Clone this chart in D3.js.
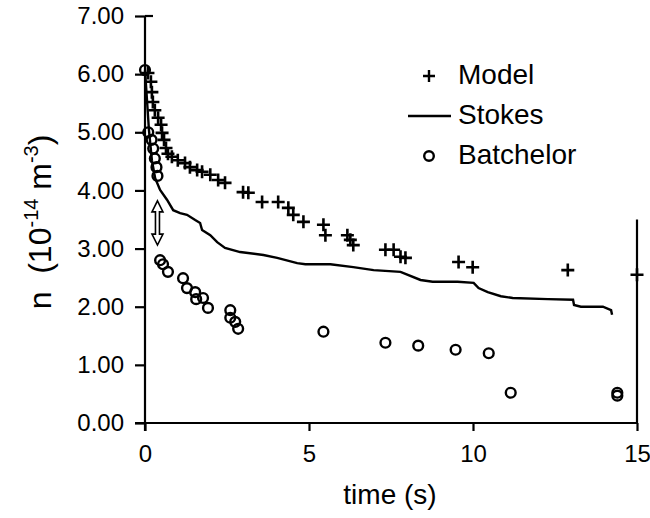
<!DOCTYPE html>
<html>
<head>
<meta charset="utf-8">
<script src="https://cdn.jsdelivr.net/npm/d3@7"></script>
<style>
    html, body { margin: 0; padding: 0; background: #fff; }
    svg { display: block; font-family: 'Liberation Sans', Arial, sans-serif; }
    .axis path, .axis line { stroke: #000; stroke-width: 2.2; }
    .axis text { font-size: 24px; fill: #000; }
</style>
</head>
<body>
<div id="chart"></div>
<script>
// ============================================================
// Data
// ============================================================
const modelT = [0.09, 0.18, 0.21, 0.24, 0.30, 0.40, 0.49, 0.52, 0.58, 0.64,
    0.70, 0.82, 1.00, 1.22, 1.37, 1.59, 1.74, 1.99, 2.23, 2.44,
    2.99, 3.15, 3.57, 4.06, 4.37, 4.52, 4.83, 5.44, 5.50, 6.17,
    6.26, 6.35, 7.33, 7.58, 7.79, 7.94, 9.56, 9.99, 12.89, 15.0];
const modelN = [6.02, 5.87, 5.69, 5.52, 5.38, 5.25, 5.13, 4.99, 4.87, 4.73,
    4.63, 4.58, 4.52, 4.47, 4.40, 4.35, 4.32, 4.27, 4.18, 4.13,
    3.97, 3.96, 3.80, 3.80, 3.70, 3.58, 3.46, 3.41, 3.23, 3.23,
    3.15, 3.06, 2.98, 2.98, 2.86, 2.84, 2.77, 2.68, 2.63, 2.55];

const stokesT = [0, 0.06, 0.12, 0.21, 0.31, 0.46, 0.67, 0.86, 1.07, 1.28,
    1.53, 1.68, 1.74, 1.99, 2.20, 2.44, 2.90, 3.61, 4.03, 4.64,
    4.89, 5.65, 6.35, 6.97, 7.79, 8.40, 8.77, 9.53, 10.02, 10.17,
    10.45, 10.85, 11.21, 12.28, 13.05, 13.08, 13.29, 13.96, 14.21, 14.24];
const stokesN = [6.07, 5.56, 5.04, 4.52, 4.21, 4.01, 3.84, 3.66, 3.61, 3.58,
    3.49, 3.44, 3.32, 3.23, 3.11, 3.01, 2.94, 2.89, 2.84, 2.75,
    2.73, 2.73, 2.68, 2.63, 2.60, 2.46, 2.43, 2.43, 2.41, 2.32,
    2.25, 2.18, 2.15, 2.13, 2.12, 2.03, 2.00, 2.00, 1.94, 1.86];

const batchT = [0, 0.10, 0.20, 0.25, 0.30, 0.35, 0.38, 0.46, 0.55, 0.70,
    1.16, 1.28, 1.53, 1.56, 1.77, 1.92, 2.60, 2.60, 2.75, 2.84,
    5.44, 7.33, 8.33, 9.47, 10.48, 11.15, 14.40, 14.40];
const batchN = [6.07, 5.00, 4.87, 4.72, 4.55, 4.40, 4.25, 2.80, 2.73, 2.60,
    2.49, 2.32, 2.25, 2.13, 2.15, 1.98, 1.94, 1.81, 1.74, 1.62,
    1.57, 1.38, 1.33, 1.26, 1.20, 0.52, 0.52, 0.47];

// double arrow marking the gap between model and Batchelor
const arrowT = 0.38;
const arrowN = [3.82, 3.06];

// partial vertical rule at the right end of the x axis
const rightRuleN = [0, 3.5];

const xTicks = [0, 5, 10, 15];
const yTicks = [0, 1, 2, 3, 4, 5, 6, 7];
const legendLabels = ['Model', 'Stokes', 'Batchelor'];

// ============================================================
// Layout
// ============================================================
const WIDTH = 650, HEIGHT = 518;
const x = d3.scaleLinear().domain([0, 15]).range([145, 637]);
const y = d3.scaleLinear().domain([0, 7]).range([423, 16]);

const svg = d3.select('#chart').append('svg')
    .attr('width', WIDTH)
    .attr('height', HEIGHT);

// ============================================================
// Axes
// ============================================================
svg.append('g')
    .attr('class', 'axis')
    .attr('transform', `translate(0, ${y(0)})`)
    .call(d3.axisBottom(x).tickValues(xTicks).tickSize(8).tickSizeOuter(0).tickPadding(14))
    .call(g => g.select('.domain').attr('d', `M${x(0) - 10},0H${x(15)}`));

svg.append('g')
    .attr('class', 'axis')
    .attr('transform', `translate(${x(0)}, 0)`)
    .call(d3.axisLeft(y).tickValues(yTicks).tickFormat(d3.format('.2f'))
        .tickSize(10).tickSizeOuter(0).tickPadding(11))
    .call(g => g.select('.domain').attr('d', `M0,${y(0) + 8}V${y(7)}`))
    .call(g => g.append('line')
        .attr('x1', 0).attr('x2', 8)
        .attr('y1', y(7)).attr('y2', y(7)));

svg.append('line')
    .attr('x1', x(15)).attr('x2', x(15))
    .attr('y1', y(rightRuleN[0])).attr('y2', y(rightRuleN[1]))
    .attr('stroke', '#000')
    .attr('stroke-width', 2.2);

// axis titles
svg.append('text')
    .attr('x', 390)
    .attr('y', 504)
    .attr('text-anchor', 'middle')
    .attr('font-size', 28)
    .text('time (s)');

const yTitle = svg.append('text')
    .attr('transform', 'translate(51, 222) rotate(-90)')
    .attr('text-anchor', 'middle')
    .attr('font-size', 32)
    .style('white-space', 'pre');
yTitle.append('tspan').text('n  (10');
yTitle.append('tspan').attr('font-size', 20).attr('dy', -13).text('-14');
yTitle.append('tspan').attr('dy', 13).text(' m');
yTitle.append('tspan').attr('font-size', 20).attr('dy', -13).text('-3');
yTitle.append('tspan').attr('dy', 13).text(')');

// ============================================================
// Marks
// ============================================================
function plusPath(cx, cy, s) {
    return `M${cx - s},${cy}H${cx + s}M${cx},${cy - s}V${cy + s}`;
}

const stokes = d3.zip(stokesT, stokesN);
svg.append('path')
    .datum(stokes)
    .attr('fill', 'none')
    .attr('stroke', '#000')
    .attr('stroke-width', 2.4)
    .attr('d', d3.line().x(d => x(d[0])).y(d => y(d[1])));

svg.append('g')
    .selectAll('path')
    .data(d3.zip(modelT, modelN))
    .join('path')
    .attr('d', d => plusPath(x(d[0]), y(d[1]), 6.5))
    .attr('stroke', '#000')
    .attr('stroke-width', 2.6);

svg.append('g')
    .selectAll('circle')
    .data(d3.zip(batchT, batchN))
    .join('circle')
    .attr('cx', d => x(d[0]))
    .attr('cy', d => y(d[1]))
    .attr('r', 4.9)
    .attr('fill', 'none')
    .attr('stroke', '#000')
    .attr('stroke-width', 2.4);

// hollow double arrow
(function drawArrow() {
    const ax = x(arrowT), top = y(arrowN[0]), bot = y(arrowN[1]);
    const hw = 5.5, sw = 2, head = 11;
    const d = `M${ax},${top}L${ax + hw},${top + head}H${ax + sw}V${bot - head}H${ax + hw}` +
        `L${ax},${bot}L${ax - hw},${bot - head}H${ax - sw}V${top + head}H${ax - hw}Z`;
    svg.append('path')
        .attr('d', d)
        .attr('fill', '#fff')
        .attr('stroke', '#000')
        .attr('stroke-width', 1.6);
})();

// ============================================================
// Legend
// ============================================================
const legend = svg.append('g').attr('transform', 'translate(429, 76)');
legendLabels.forEach((label, i) => {
    const row = legend.append('g').attr('transform', `translate(0, ${i * 40})`);
    if (i === 0) {
        row.append('path').attr('d', plusPath(0, 0, 6))
            .attr('stroke', '#000').attr('stroke-width', 2.4);
    } else if (i === 1) {
        row.append('line').attr('x1', -21).attr('x2', 22)
            .attr('stroke', '#000').attr('stroke-width', 2.4);
    } else {
        row.append('circle').attr('r', 4.8).attr('fill', 'none')
            .attr('stroke', '#000').attr('stroke-width', 2.4);
    }
    row.append('text')
        .attr('x', 29)
        .attr('y', 8)
        .attr('font-size', 28)
        .text(label);
});
</script>
</body>
</html>
